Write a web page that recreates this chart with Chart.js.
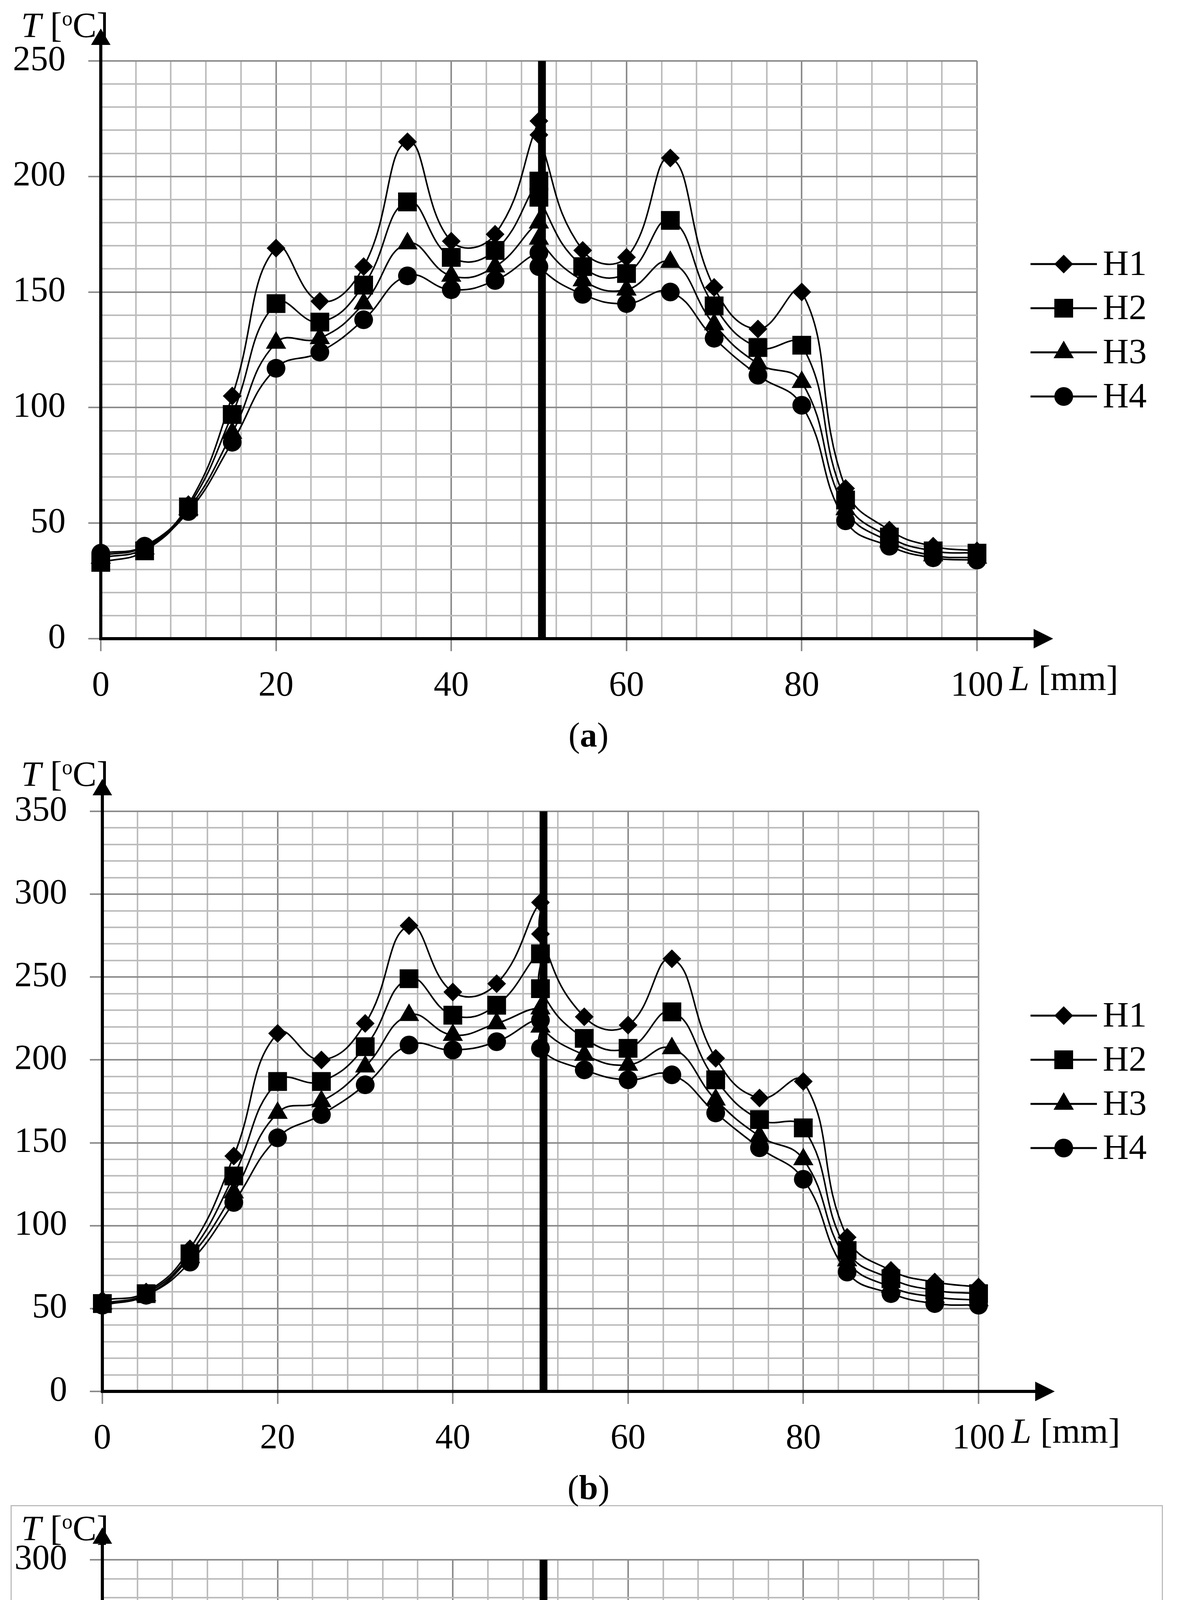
<!DOCTYPE html>
<html>
<head>
<meta charset="utf-8">
<script src="https://cdn.jsdelivr.net/npm/chart.js@4.4.0/dist/chart.umd.min.js"></script>
<style>
  html, body { margin: 0; padding: 0; background: #fff; }
  body { width: 3013px; height: 5757px; position: relative; overflow: hidden; font-family: "Liberation Serif", serif; color: #000; }
  #page { position: absolute; left: 0; top: 0; width: 3013px; height: 5757px; }
  canvas { position: absolute; left: 0; }
  .txt { position: absolute; font-size: 92px; line-height: 92px; white-space: nowrap; }
  .txt .deg { font-size: 54px; position: relative; top: -30px; }
  .cap { position: absolute; left: 0; width: 3013px; text-align: center; font-size: 88px; line-height: 88px; }
  #boxC { position: absolute; left: 27px; top: 3853px; width: 2944px; height: 1768px; border: 3px solid #bdbdbd; }
</style>
</head>
<body>
<div id="page">
<div id="boxC"></div>

<canvas id="chartA" width="3013" height="1840" style="top:0px"></canvas>
<canvas id="chartB" width="3013" height="1900" style="top:1880px"></canvas>
<canvas id="chartC" width="3013" height="1740" style="top:3870px"></canvas>

<div class="txt" style="left:54px; top:18px"><i>T</i> [<span class="deg">o</span>C]</div>
<div class="txt" style="left:54px; top:1935px"><i>T</i> [<span class="deg">o</span>C]</div>
<div class="txt" style="left:54px; top:3866px"><i>T</i> [<span class="deg">o</span>C]</div>

<div class="txt" style="left:2584px; top:1690px"><i>L</i> [mm]</div>
<div class="txt" style="left:2589px; top:3617px"><i>L</i> [mm]</div>
<div class="txt" style="left:2589px; top:5505px"><i>L</i> [mm]</div>

<div class="cap" style="top:1838px">(<b>a</b>)</div>
<div class="cap" style="top:3765px">(<b>b</b>)</div>
<div class="cap" style="top:5656px">(<b>c</b>)</div>
</div>

<script>
// distance along the sample [mm]; 50 appears twice (both sides of the weld line)
var lengths = [0, 5, 10, 15, 20, 25, 30, 35, 40, 45, 50, 50, 55, 60, 65, 70, 75, 80, 85, 90, 95, 100];
var seriesNames = ["H1", "H2", "H3", "H4"];

// panel (a)
var aH1 = [36, 40, 58, 105, 169, 146, 161, 215, 172, 175, 224, 218, 168, 165, 208, 152, 134, 150, 65, 47, 40, 38];
var aH2 = [33, 38, 57, 97, 145, 137, 153, 189, 165, 168, 198, 191, 161, 158, 181, 144, 126, 127, 60, 44, 38, 37];
var aH3 = [35, 39, 56, 89, 128, 130, 145, 171, 157, 161, 180, 173, 155, 151, 163, 136, 119, 111, 56, 42, 36, 35];
var aH4 = [37, 40, 55, 85, 117, 124, 138, 157, 151, 155, 167, 161, 149, 145, 150, 130, 114, 101, 51, 40, 35, 34];

// panel (b)
var bH1 = [55, 60, 86, 142, 216, 200, 222, 281, 241, 246, 295, 276, 226, 221, 261, 201, 177, 187, 93, 73, 66, 63];
var bH2 = [53, 59, 83, 130, 187, 187, 208, 249, 227, 233, 264, 243, 213, 207, 229, 188, 164, 159, 85, 68, 61, 59];
var bH3 = [53, 58, 81, 120, 168, 175, 196, 227, 215, 222, 231, 220, 203, 197, 207, 176, 154, 140, 79, 63, 57, 55];
var bH4 = [52, 58, 78, 114, 153, 167, 185, 209, 206, 211, 224, 207, 194, 188, 191, 168, 147, 128, 72, 59, 53, 52];

// panel (c)
var cH1 = [38, 41, 47, 65, 151, 135, 153, 208, 166, 169, 217, 254, 199, 200, 260, 206, 209, 257, 92, 62, 52, 49];
var cH2 = [37, 39, 44, 60, 127, 127, 145, 181, 157, 162, 191, 234, 199, 200, 238, 203, 201, 217, 84, 58, 49, 46];
var cH3 = [35, 36, 42, 55, 112, 120, 137, 163, 150, 155, 172, 221, 198, 199, 224, 200, 193, 189, 78, 55, 46, 43];
var cH4 = [33, 34, 39, 51, 101, 114, 131, 150, 145, 148, 160, 214, 197, 199, 214, 197, 188, 170, 71, 51, 43, 41];

var weldLine = 50.35;

var markerStyles = [
    { pointStyle: "rectRot", radius: 24 },
    { pointStyle: "rect", radius: 34 },
    { pointStyle: "triangle", radius: 30 },
    { pointStyle: "circle", radius: 24 },
];

var tickFont = { family: "'Liberation Serif', serif", size: 90 };

function gridColor(major) {
    return function (c) {
        return c.tick && c.tick.value % major === 0 ? "#8c8c8c" : "#bdbdbd";
    };
}
function tickColor(major) {
    return function (c) {
        return c.tick && c.tick.value % major === 0 ? "#8c8c8c" : "rgba(0,0,0,0)";
    };
}

// axes with arrow heads + legend (line, marker, name)
var decor = {
    id: "decor",
    afterDatasetsDraw: function (chart) {
        var ctx = chart.ctx;
        var a = chart.chartArea;
        var x0 = chart.scales.x.getPixelForValue(0);
        var y0 = chart.scales.y.getPixelForValue(0);
        var xe = a.right + 195;
        ctx.save();
        ctx.fillStyle = "#000";
        ctx.strokeStyle = "#000";
        ctx.lineWidth = 8;
        ctx.beginPath();
        ctx.moveTo(x0, y0 + 4);
        ctx.lineTo(x0, a.top - 50);
        ctx.stroke();
        ctx.beginPath();
        ctx.moveTo(x0, a.top - 83);
        ctx.lineTo(x0 - 25, a.top - 41);
        ctx.lineTo(x0 + 25, a.top - 41);
        ctx.closePath();
        ctx.fill();
        ctx.beginPath();
        ctx.moveTo(x0 - 4, y0);
        ctx.lineTo(xe - 45, y0);
        ctx.stroke();
        ctx.beginPath();
        ctx.moveTo(xe, y0);
        ctx.lineTo(xe - 50, y0 - 25);
        ctx.lineTo(xe - 50, y0 + 25);
        ctx.closePath();
        ctx.fill();

        var mid = (a.top + a.bottom) / 2 - 50;
        ctx.font = "92px 'Liberation Serif', serif";
        ctx.textBaseline = "middle";
        ctx.textAlign = "left";
        for (var i = 0; i < seriesNames.length; i++) {
            var ds = chart.data.datasets[i];
            var y = mid + (i - 1.5) * 113;
            ctx.lineWidth = 5;
            ctx.beginPath();
            ctx.moveTo(2638, y);
            ctx.lineTo(2808, y);
            ctx.stroke();
            Chart.helpers.drawPoint(ctx, { pointStyle: ds.pointStyle, radius: ds.pointRadius, borderWidth: 0 }, 2723, y);
            ctx.fillText(ds.label, 2823, y + 4);
        }
        ctx.restore();
    },
};

function makePanel(id, series, yMax, box) {
    var datasets = series.map(function (values, i) {
        return {
            label: seriesNames[i],
            data: values.map(function (v, k) { return { x: lengths[k], y: v }; }),
            borderColor: "#000",
            backgroundColor: "#000",
            pointBackgroundColor: "#000",
            borderWidth: 4,
            tension: 0.45,
            pointStyle: markerStyles[i].pointStyle,
            pointRadius: markerStyles[i].radius,
            pointBorderWidth: 0,
            clip: false,
        };
    });
    datasets.push({
        label: "weld",
        data: [{ x: weldLine, y: 0 }, { x: weldLine, y: yMax }],
        borderColor: "#000",
        borderWidth: 20,
        pointRadius: 0,
        tension: 0,
        clip: false,
    });

    return new Chart(document.getElementById(id), {
        type: "line",
        data: { datasets: datasets },
        options: {
            responsive: false,
            animation: false,
            devicePixelRatio: 1,
            layout: { padding: { top: box.padTop, right: 3013 - box.x100, left: 0, bottom: 0 } },
            plugins: { legend: { display: false }, tooltip: { enabled: false } },
            scales: {
                x: {
                    type: "linear",
                    min: 0,
                    max: 100,
                    afterFit: function (s) { s.height = box.axisH; },
                    ticks: {
                        stepSize: 4,
                        autoSkip: false,
                        maxRotation: 0,
                        padding: 36,
                        color: "#000",
                        font: tickFont,
                        callback: function (v) { return v % 20 === 0 ? String(v) : ""; },
                    },
                    grid: { color: gridColor(20), lineWidth: 4, tickLength: 32, tickWidth: 4, tickColor: tickColor(20) },
                    border: { display: false },
                },
                y: {
                    type: "linear",
                    min: 0,
                    max: yMax,
                    afterFit: function (s) { s.width = box.x0; },
                    ticks: {
                        stepSize: 10,
                        autoSkip: false,
                        padding: 58,
                        color: "#000",
                        font: tickFont,
                        callback: function (v) { return v % 50 === 0 ? String(v) : ""; },
                    },
                    grid: { color: gridColor(50), lineWidth: 4, tickLength: 32, tickWidth: 4, tickColor: tickColor(50) },
                    border: { display: false },
                },
            },
        },
        plugins: [decor],
    });
}

makePanel("chartA", [aH1, aH2, aH3, aH4], 250, { x0: 258, x100: 2501, padTop: 156, axisH: 205 });
makePanel("chartB", [bH1, bH2, bH3, bH4], 350, { x0: 262, x100: 2505, padTop: 197, axisH: 218 });
makePanel("chartC", [cH1, cH2, cH3, cH4], 300, { x0: 262, x100: 2505, padTop: 123, axisH: 158 });
</script>
</body>
</html>
